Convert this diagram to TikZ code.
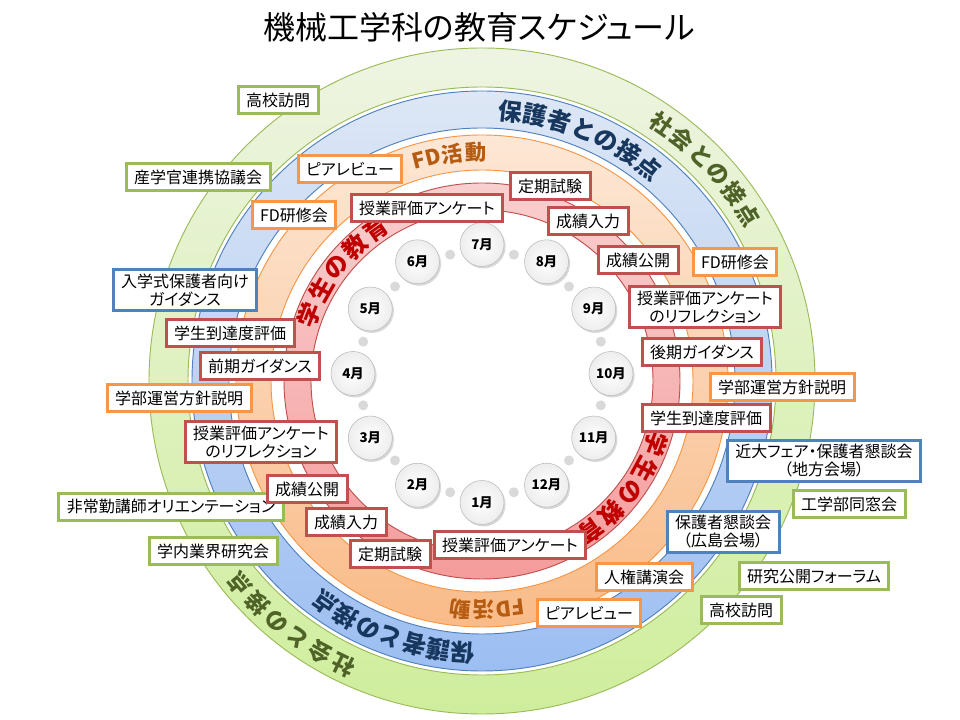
\documentclass[tikz,border=0pt]{standalone}
\usepackage{fontspec}
\setmainfont{Noto Sans CJK JP}[RawFeature=+palt]
\usetikzlibrary{shadows}

\definecolor{gline}{HTML}{9BBB59}
\definecolor{bline}{HTML}{4F81BD}
\definecolor{oline}{HTML}{F79646}
\definecolor{rline}{HTML}{C0504D}
\definecolor{gtop}{HTML}{EEF4E2}
\definecolor{gbot}{HTML}{CFEE9C}
\definecolor{btop}{HTML}{DDE7F5}
\definecolor{bbot}{HTML}{9CBEF2}
\definecolor{otop}{HTML}{FDE7D5}
\definecolor{obot}{HTML}{F9BB88}
\definecolor{rtop}{HTML}{F9CFCF}
\definecolor{rbot}{HTML}{F59C9C}
\definecolor{gtext}{HTML}{4F6228}
\definecolor{btext}{HTML}{17375E}
\definecolor{otext}{HTML}{B65C12}
\definecolor{rtext}{HTML}{C00000}

\tikzset{
  evbox/.style={draw, line width=2.25pt, fill=white, inner xsep=6pt, inner ysep=3pt,
    minimum height=20pt, align=center, font=\fontsize{12}{13.5}\selectfont},
  socbox/.style={evbox, draw=gline},
  parbox/.style={evbox, draw=bline},
  fdbox/.style={evbox, draw=oline},
  edubox/.style={evbox, draw=rline},
  monthnode/.style={circle, minimum size=33pt, inner sep=0pt, draw=gray!55,
    inner color=white, outer color=gray!14,
    drop shadow={shadow xshift=1.2pt, shadow yshift=-1.5pt, opacity=0.3},
    font=\fontsize{10}{10}\selectfont\bfseries},
  monthdot/.style={circle, inner sep=0pt, minimum size=7.5pt, fill=gray!30},
  ringlabel/.style={inner sep=0pt, font=\fontsize{18}{18}\selectfont\bfseries}
}

\begin{document}
\begin{tikzpicture}[x=0.75pt, y=0.75pt]
  \useasboundingbox (0,0) rectangle (960,720);
  \fill[white] (0,0) rectangle (960,720);

  \node[font=\fontsize{24}{24}\selectfont] (title) at (479,693) {機械工学科の教育スケジュール};

  % rings
  \begin{scope}[shift={(482,339)}]
    \shade[even odd rule, top color=gtop, bottom color=gbot] (0,0) circle (333) (0,0) circle (294);
    \draw[gline, line width=0.7pt] (0,0) circle (333) (0,0) circle (294);
    \shade[even odd rule, top color=btop, bottom color=bbot] (0,0) circle (290) (0,0) circle (253);
    \draw[bline, line width=0.7pt] (0,0) circle (290) (0,0) circle (253);
    \shade[even odd rule, top color=otop, bottom color=obot] (0,0) circle (246) (0,0) circle (211);
    \draw[oline, line width=0.7pt] (0,0) circle (246) (0,0) circle (211);
    \shade[even odd rule, top color=rtop, bottom color=rbot] (0,0) circle (198) (0,0) circle (171);
    \draw[rline, line width=0.7pt] (0,0) circle (198) (0,0) circle (171);

    % ring labels
    \foreach \ch [count=\i from 0] in {社,会,と,の,接,点}{
      \pgfmathsetmacro\ang{55-4.6*\i}
      \node[ringlabel, text=gtext, font=\fontsize{17}{17}\selectfont\bfseries, rotate=\ang-90] (socT\i) at (\ang:314) {\ch};
      \pgfmathsetmacro\ang{244-4.8*\i}
      \node[ringlabel, text=gtext, font=\fontsize{17}{17}\selectfont\bfseries, rotate=\ang-90] (socB\i) at (\ang:316) {\ch};
    }
    \foreach \ch [count=\i from 0] in {保,護,者,と,の,接,点}{
      \pgfmathsetmacro\ang{84-5.33*\i}
      \node[ringlabel, text=btext, rotate=\ang-90] (parT\i) at (\ang:271) {\ch};
      \pgfmathsetmacro\ang{266-5.2*\i}
      \node[ringlabel, text=btext, rotate=\ang-90] (parB\i) at (\ang:272) {\ch};
    }
    \foreach \ch/\ang [count=\i] in {FD/104,活/97.5,動/91.5}{
      \node[ringlabel, text=otext, font=\fontsize{16}{16}\selectfont\bfseries, rotate=\ang-90] (fdT\i) at (\ang:229) {\ch};
    }
    \foreach \ch/\ang [count=\i] in {FD/277,活/270.5,動/264.5}{
      \node[ringlabel, text=otext, font=\fontsize{16}{16}\selectfont\bfseries, rotate=\ang-90] (fdB\i) at (\ang:229) {\ch};
    }
    \foreach \ch [count=\i from 0] in {学,生,の,教,育}{
      \pgfmathsetmacro\ang{159-8.5*\i}
      \node[ringlabel, text=rtext, rotate=\ang-90] (eduT\i) at (\ang:185) {\ch};
      \pgfmathsetmacro\ang{340-8.5*\i}
      \node[ringlabel, text=rtext, rotate=\ang-90] (eduB\i) at (\ang:185) {\ch};
    }
  \end{scope}

  % months
  \begin{scope}[shift={(482,346.5)}]
    \foreach \m in {1,...,12}{
      \pgfmathsetmacro\dang{285-30*\m}
      \node[monthdot] (dot\m) at (\dang:123) {};
    }
    \foreach \m in {1,...,12}{
      \pgfmathsetmacro\ang{300-30*\m}
      \node[monthnode] (m\m) at (\ang:129) {\m 月};
    }
  \end{scope}

  % society
  \node[socbox] (kouko1) at (278,620) {高校訪問};
  \node[socbox] (sangaku) at (198,543) {産学官連携協議会};
  \node[socbox] (hijoukin) at (171,213) {非常勤講師オリエンテーション};
  \node[socbox] (gyoukai) at (213,169) {学内業界研究会};
  \node[socbox] (dousou) at (849,216) {工学部同窓会};
  \node[socbox] (forum) at (814,144) {研究公開フォーラム};
  \node[socbox] (kouko2) at (741,110) {高校訪問};

  % parents
  \node[parbox] (nyugaku) at (185,430) {入学式保護者向け\\ガイダンス};
  \node[parbox] (kindai) at (824,259) {近大フェア・保護者懇談会\\（地方会場）};
  \node[parbox] (hiroshima) at (723,188) {保護者懇談会\\（広島会場）};

  % FD
  \node[fdbox] (peer1) at (350,551) {ピアレビュー};
  \node[fdbox] (fdken1) at (294,505) {FD研修会};
  \node[fdbox] (fdken2) at (735,458) {FD研修会};
  \node[fdbox] (houshin1) at (179,322) {学部運営方針説明};
  \node[fdbox] (houshin2) at (782,333) {学部運営方針説明};
  \node[fdbox] (jinken) at (644,143) {人権講演会};
  \node[fdbox] (peer2) at (589,107) {ピアレビュー};

  % students
  \node[edubox] (shiken1) at (550,534) {定期試験};
  \node[edubox] (anketo1) at (427,512) {授業評価アンケート};
  \node[edubox] (nyuryoku1) at (588,499) {成績入力};
  \node[edubox] (koukai1) at (638,460) {成績公開};
  \node[edubox] (reflect1) at (705,413) {授業評価アンケート\\のリフレクション};
  \node[edubox] (kouki) at (702,368) {後期ガイダンス};
  \node[edubox] (toutatsu1) at (706,302) {学生到達度評価};
  \node[edubox] (toutatsu2) at (230,387) {学生到達度評価};
  \node[edubox] (zenki) at (260,354) {前期ガイダンス};
  \node[edubox] (reflect2) at (261,278) {授業評価アンケート\\のリフレクション};
  \node[edubox] (koukai2) at (307,231) {成績公開};
  \node[edubox] (nyuryoku2) at (346,198) {成績入力};
  \node[edubox] (shiken2) at (390,166) {定期試験};
  \node[edubox] (anketo2) at (510,175) {授業評価アンケート};
\end{tikzpicture}
\end{document}
